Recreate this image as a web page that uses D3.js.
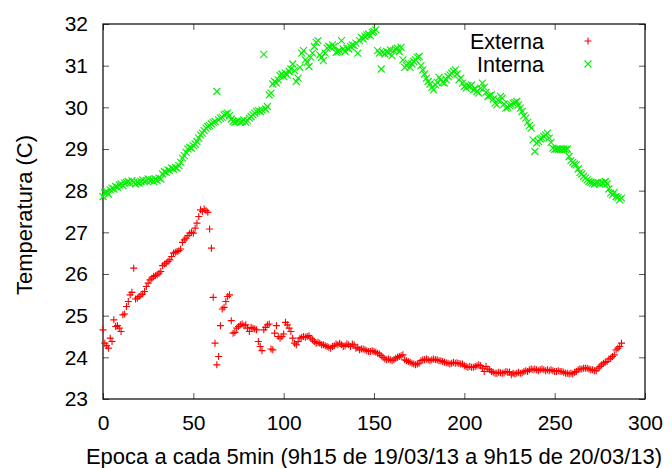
<!DOCTYPE html>
<html>
<head>
<meta charset="utf-8">
<script src="https://cdn.jsdelivr.net/npm/d3@7"></script>
<style>
  html, body { margin: 0; padding: 0; background: #fff; }
  svg { display: block; }
  text { font-family: "Liberation Sans", Arial, Helvetica, sans-serif; }
</style>
</head>
<body>
<svg id="chart" width="672" height="468"></svg>
<script>
// ---- data ----
const xTicks = [0, 50, 100, 150, 200, 250, 300];
const yTicks = [23, 24, 25, 26, 27, 28, 29, 30, 31, 32];
const seriesNames = ["Externa", "Interna"];
const xLabel = "Epoca a cada 5min (9h15 de 19/03/13 a 9h15 de 20/03/13)";
const yLabel = "Temperatura (C)";

const externa = [
24.66,24.34,24.28,24.22,24.46,24.38,24.90,24.74,24.76,24.70,
24.62,25.02,25.04,25.22,25.34,25.50,25.56,26.14,25.40,25.42,
25.46,25.50,25.52,25.58,25.70,25.78,25.86,25.90,25.94,25.96,
25.98,26.02,26.06,26.20,26.24,26.26,26.30,26.34,26.42,26.50,
26.52,26.54,26.56,26.60,26.76,26.82,26.86,26.92,26.98,27.00,
26.98,27.10,27.22,27.38,27.54,27.50,27.56,27.52,27.48,27.08,
26.62,25.44,24.34,23.82,24.02,24.76,25.16,25.20,25.34,25.46,
25.50,24.88,24.58,24.60,24.70,24.74,24.78,24.80,24.76,24.78,
24.70,24.62,24.72,24.70,24.68,24.66,24.38,24.26,24.16,24.66,
24.72,24.78,24.80,24.20,24.18,24.58,24.76,24.50,24.46,24.50,
24.56,24.84,24.78,24.70,24.62,24.46,24.34,24.30,24.38,24.46,
24.48,24.50,24.48,24.50,24.52,24.46,24.42,24.38,24.34,24.36,
24.34,24.30,24.30,24.28,24.26,24.24,24.22,24.26,24.28,24.32,
24.30,24.34,24.30,24.26,24.28,24.32,24.30,24.26,24.32,24.30,
24.22,24.24,24.18,24.20,24.20,24.18,24.16,24.14,24.14,24.16,
24.14,24.12,24.10,24.08,24.04,24.00,23.96,23.94,23.96,23.94,
23.92,23.94,23.98,24.00,24.02,24.04,24.06,23.94,23.92,23.90,
23.88,23.86,23.84,23.82,23.84,23.86,23.92,23.94,23.94,23.96,
23.94,23.92,23.94,23.96,23.94,23.94,23.92,23.92,23.90,23.88,
23.87,23.86,23.84,23.86,23.88,23.86,23.87,23.85,23.84,23.84,
23.80,23.78,23.76,23.78,23.76,23.76,23.78,23.80,23.82,23.80,
23.74,23.66,23.78,23.72,23.70,23.66,23.64,23.62,23.62,23.64,
23.63,23.62,23.63,23.66,23.64,23.65,23.58,23.62,23.60,23.62,
23.64,23.62,23.63,23.66,23.68,23.66,23.70,23.72,23.70,23.72,
23.70,23.68,23.70,23.72,23.70,23.68,23.70,23.68,23.70,23.68,
23.66,23.66,23.68,23.66,23.66,23.64,23.62,23.62,23.60,23.62,
23.60,23.64,23.66,23.70,23.72,23.72,23.74,23.74,23.74,23.72,
23.70,23.70,23.68,23.68,23.74,23.78,23.82,23.86,23.88,23.90,
23.96,23.98,24.02,24.06,24.18,24.22,24.26,24.34
];

const interna = [
27.86,27.95,27.98,27.92,28.02,28.06,28.04,28.10,28.08,28.14,
28.16,28.12,28.18,28.20,28.22,28.18,28.24,28.20,28.16,28.20,
28.18,28.22,28.26,28.22,28.24,28.28,28.24,28.26,28.22,28.28,
28.24,28.30,28.28,28.40,28.46,28.44,28.50,28.48,28.54,28.52,
28.56,28.54,28.60,28.68,28.78,28.84,28.92,29.00,29.04,29.02,
29.08,29.12,29.18,29.26,29.34,29.38,29.44,29.50,29.54,29.56,
29.60,29.64,29.66,30.38,29.70,29.74,29.76,29.82,29.84,29.86,
29.80,29.72,29.66,29.64,29.66,29.68,29.64,29.66,29.70,29.64,
29.68,29.74,29.78,29.82,29.86,29.90,29.92,29.90,29.94,31.27,
29.96,30.02,30.30,30.34,30.56,30.62,30.58,30.66,30.76,30.80,
30.74,30.82,30.78,30.86,30.92,31.04,30.88,30.62,30.70,30.96,
31.30,31.36,31.14,31.08,30.98,31.20,31.30,31.46,31.56,31.60,
31.26,31.20,31.12,31.30,31.42,31.46,31.44,31.50,31.46,31.32,
31.34,31.36,31.60,31.40,31.34,31.42,31.40,31.46,31.50,31.48,
31.54,31.30,31.60,31.68,31.64,31.70,31.74,31.76,31.72,31.80,
31.82,31.86,31.36,31.30,30.92,31.32,31.28,31.34,31.30,31.38,
31.24,31.36,31.40,31.42,31.34,31.44,31.14,30.96,31.00,31.06,
30.96,31.04,31.10,31.14,31.20,31.22,31.00,30.90,30.80,30.70,
30.62,30.56,30.48,30.42,30.54,30.60,30.72,30.66,30.60,30.58,
30.66,30.74,30.78,30.82,30.86,30.90,30.80,30.66,30.70,30.58,
30.50,30.46,30.52,30.50,30.54,30.42,30.44,30.38,30.34,30.46,
30.58,30.48,30.36,30.26,30.28,30.30,30.20,30.10,30.06,30.16,
30.26,30.22,30.08,29.98,30.00,30.04,30.06,30.10,30.12,30.14,
30.06,29.98,29.90,29.80,29.74,29.64,29.56,29.50,29.22,28.94,
29.14,29.18,29.24,29.26,29.30,29.34,29.38,29.26,29.16,29.02,
28.99,29.00,28.99,29.00,28.98,29.00,28.99,29.00,28.82,28.72,
28.68,28.64,28.62,28.52,28.44,28.40,28.34,28.30,28.26,28.22,
28.20,28.18,28.16,28.18,28.20,28.16,28.20,28.18,28.22,28.16,
28.04,27.94,27.90,27.96,27.86,27.84,27.78,27.82
];

// ---- layout ----
const svg = d3.select("#chart");
const L = 103, R = 645, T = 24, B = 399;
const FS_TICK = 21;
const FS_LEG = 21.5;
const FS_LAB = 22;

const x = d3.scaleLinear().domain([0, 300]).range([L, R]);
const y = d3.scaleLinear().domain([23, 32]).range([B, T]);

const tickLen = 6;
const tickColor = "#555";

function styleAxis(g, showText) {
  g.select(".domain").remove();
  g.selectAll(".tick line").attr("stroke", tickColor).attr("stroke-width", 1);
  g.selectAll(".tick text")
    .attr("fill", "#000")
    .style("font-size", FS_TICK + "px")
    .style("font-family", '"Liberation Sans", Arial, sans-serif');
  if (!showText) g.selectAll(".tick text").remove();
}

svg.append("g").attr("transform", `translate(0,${B})`)
  .call(d3.axisBottom(x).tickValues(xTicks).tickFormat(d3.format("d")).tickSize(-tickLen).tickPadding(16))
  .call(g => styleAxis(g, true));
svg.append("g").attr("transform", `translate(0,${T})`)
  .call(d3.axisTop(x).tickValues(xTicks).tickSize(-tickLen))
  .call(g => styleAxis(g, false));
svg.append("g").attr("transform", `translate(${L},0)`)
  .call(d3.axisLeft(y).tickValues(yTicks).tickFormat(d3.format("d")).tickSize(-tickLen).tickPadding(15))
  .call(g => styleAxis(g, true));
svg.append("g").attr("transform", `translate(${R},0)`)
  .call(d3.axisRight(y).tickValues(yTicks).tickSize(-tickLen))
  .call(g => styleAxis(g, false));

// frame
svg.append("rect")
  .attr("x", L).attr("y", T).attr("width", R - L).attr("height", B - T)
  .attr("fill", "none").attr("stroke", "#000").attr("stroke-width", 1.2);

// markers
const ms = 3.5;
function plusPath(cx, cy) { return `M${cx - ms},${cy}H${cx + ms}M${cx},${cy - ms}V${cy + ms}`; }
function crossPath(cx, cy) { return `M${cx - ms},${cy - ms}L${cx + ms},${cy + ms}M${cx - ms},${cy + ms}L${cx + ms},${cy - ms}`; }

const RED = "#ff0000", GREEN = "#00f000";

svg.append("g").selectAll("path").data(externa).join("path")
  .attr("d", (d, i) => plusPath(x(i), y(d)))
  .attr("stroke", RED).attr("stroke-width", 1.1).attr("fill", "none");

svg.append("g").selectAll("path").data(interna).join("path")
  .attr("d", (d, i) => crossPath(x(i), y(d)))
  .attr("stroke", GREEN).attr("stroke-width", 1.1).attr("fill", "none");

// legend
const legend = svg.append("g");
const legY = [41, 64];
const legColors = [RED, GREEN];
seriesNames.forEach((name, k) => {
  legend.append("text")
    .attr("x", 544).attr("y", legY[k]).attr("dy", "0.35em")
    .attr("text-anchor", "end").style("font-size", FS_LEG + "px")
    .text(name);
  legend.append("path")
    .attr("d", k === 0 ? plusPath(588, legY[k]) : crossPath(588, legY[k]))
    .attr("stroke", legColors[k]).attr("stroke-width", 1.1).attr("fill", "none");
});

// axis labels
svg.append("text")
  .attr("x", 374).attr("y", 464)
  .attr("text-anchor", "middle").style("font-size", FS_LAB + "px")
  .text(xLabel);
svg.append("text")
  .attr("transform", `translate(32,215) rotate(-90)`)
  .attr("text-anchor", "middle").style("font-size", FS_LAB + "px")
  .text(yLabel);
</script>
</body>
</html>
